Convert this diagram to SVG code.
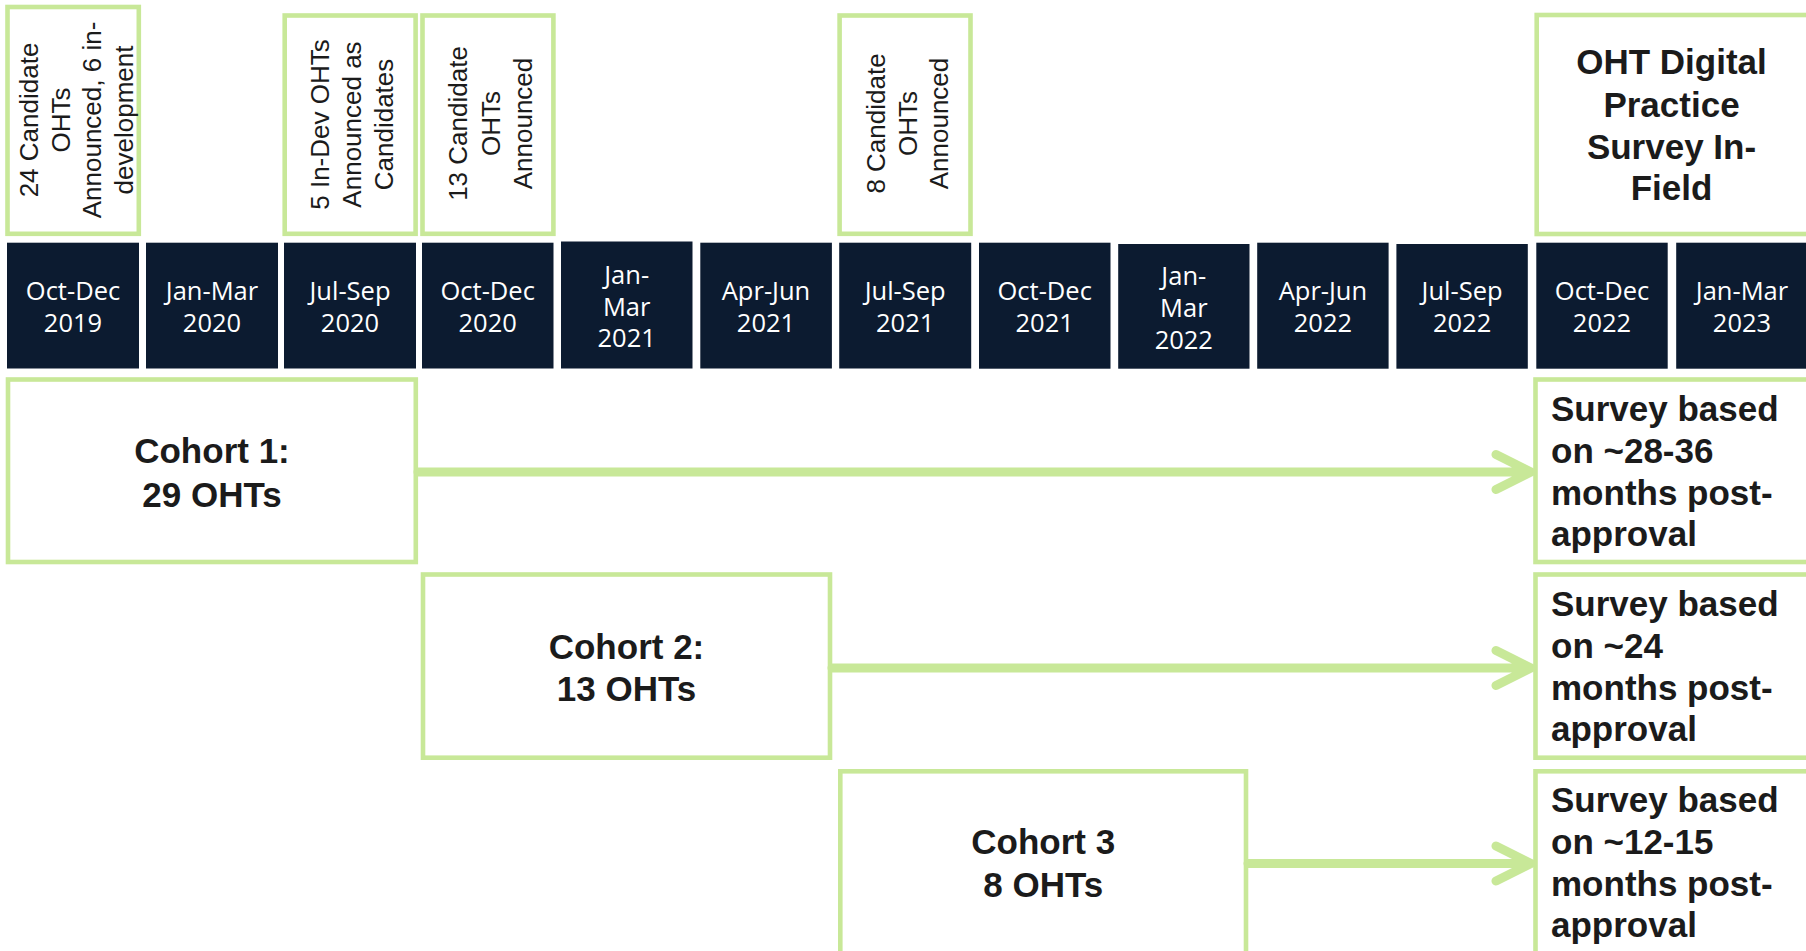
<svg xmlns="http://www.w3.org/2000/svg" width="1806" height="951" viewBox="0 0 1806 951">
<style>
.gbox{fill:#ffffff;stroke:#c8e898;stroke-width:4.6}
.qbox{fill:#0c1b30}
.qt{font-family:"Open Sans","Noto Sans",sans-serif;font-size:25.5px;fill:#ffffff;text-anchor:middle}
.rt{font-family:"Liberation Sans",Arial,sans-serif;font-size:26px;fill:#1b1b1b;text-anchor:middle}
.bt{font-family:"Liberation Sans",Arial,sans-serif;font-size:35px;font-weight:bold;fill:#1b1b1b}
.mid{text-anchor:middle}
.conn{fill:none;stroke:#c8e898;stroke-width:9;stroke-linecap:round;stroke-linejoin:round}
</style>
<rect width="1806" height="951" fill="#ffffff"/>

<g id="ann1">
<rect class="gbox" x="7.5" y="7" width="131.3" height="226.8"/>
<text class="rt" transform="translate(38,120) rotate(-90)"><tspan x="0" y="0">24 Candidate</tspan><tspan x="0" dy="31.5">OHTs</tspan><tspan x="0" dy="31.5">Announced, 6 in-</tspan><tspan x="0" dy="31.5">development</tspan></text>
</g>
<g id="ann2">
<rect class="gbox" x="284.7" y="15.5" width="130.9" height="218.3"/>
<text class="rt" transform="translate(329,124.5) rotate(-90)"><tspan x="0" y="0">5 In-Dev OHTs</tspan><tspan x="0" dy="32">Announced as</tspan><tspan x="0" dy="32">Candidates</tspan></text>
</g>
<g id="ann3">
<rect class="gbox" x="422.5" y="15.5" width="130.9" height="218.3"/>
<text class="rt" transform="translate(467,123.5) rotate(-90)"><tspan x="0" y="0">13 Candidate</tspan><tspan x="0" dy="32.5">OHTs</tspan><tspan x="0" dy="32.5">Announced</tspan></text>
</g>
<g id="ann4">
<rect class="gbox" x="839.6" y="15.5" width="130.9" height="218.3"/>
<text class="rt" transform="translate(885,123.5) rotate(-90)"><tspan x="0" y="0">8 Candidate</tspan><tspan x="0" dy="31.5">OHTs</tspan><tspan x="0" dy="31.5">Announced</tspan></text>
</g>
<g id="ann5">
<rect class="gbox" x="1536.7" y="15" width="280" height="219"/>
<text class="bt mid"><tspan x="1671.5" y="74">OHT Digital</tspan><tspan x="1671.5" y="117">Practice</tspan><tspan x="1671.5" y="159">Survey In-</tspan><tspan x="1671.5" y="200">Field</tspan></text>
</g>

<g id="q1"><rect class="qbox" x="7" y="242.7" width="132" height="125.8"/><text class="qt"><tspan x="73" y="300">Oct-Dec</tspan><tspan x="73" y="332">2019</tspan></text></g>
<g id="q2"><rect class="qbox" x="146" y="242.7" width="132" height="125.8"/><text class="qt"><tspan x="212" y="300">Jan-Mar</tspan><tspan x="212" y="332">2020</tspan></text></g>
<g id="q3"><rect class="qbox" x="284" y="242.7" width="132" height="125.8"/><text class="qt"><tspan x="350" y="300">Jul-Sep</tspan><tspan x="350" y="332">2020</tspan></text></g>
<g id="q4"><rect class="qbox" x="422" y="242.7" width="131.5" height="125.8"/><text class="qt"><tspan x="487.7" y="300">Oct-Dec</tspan><tspan x="487.7" y="332">2020</tspan></text></g>
<g id="q5"><rect class="qbox" x="561" y="241.5" width="131.5" height="127"/><text class="qt"><tspan x="626.7" y="283.5">Jan-</tspan><tspan x="626.7" y="315.5">Mar</tspan><tspan x="626.7" y="347">2021</tspan></text></g>
<g id="q6"><rect class="qbox" x="700.3" y="242.7" width="131.6" height="125.8"/><text class="qt"><tspan x="766" y="300">Apr-Jun</tspan><tspan x="766" y="332">2021</tspan></text></g>
<g id="q7"><rect class="qbox" x="839.2" y="242.7" width="132" height="125.8"/><text class="qt"><tspan x="905.2" y="300">Jul-Sep</tspan><tspan x="905.2" y="332">2021</tspan></text></g>
<g id="q8"><rect class="qbox" x="979" y="242.7" width="131.5" height="126"/><text class="qt"><tspan x="1044.7" y="300">Oct-Dec</tspan><tspan x="1044.7" y="332">2021</tspan></text></g>
<g id="q9"><rect class="qbox" x="1118.2" y="244" width="131.3" height="124.7"/><text class="qt"><tspan x="1183.8" y="285">Jan-</tspan><tspan x="1183.8" y="317">Mar</tspan><tspan x="1183.8" y="348.5">2022</tspan></text></g>
<g id="q10"><rect class="qbox" x="1257.2" y="242.7" width="131.4" height="126"/><text class="qt"><tspan x="1322.9" y="300">Apr-Jun</tspan><tspan x="1322.9" y="332">2022</tspan></text></g>
<g id="q11"><rect class="qbox" x="1396.4" y="244" width="131.4" height="124.7"/><text class="qt"><tspan x="1462.1" y="300">Jul-Sep</tspan><tspan x="1462.1" y="332">2022</tspan></text></g>
<g id="q12"><rect class="qbox" x="1536.3" y="242.7" width="131.4" height="126"/><text class="qt"><tspan x="1602" y="300">Oct-Dec</tspan><tspan x="1602" y="332">2022</tspan></text></g>
<g id="q13"><rect class="qbox" x="1676.2" y="242.7" width="131.8" height="126"/><text class="qt"><tspan x="1742" y="300">Jan-Mar</tspan><tspan x="1742" y="332">2023</tspan></text></g>

<g id="cohort1">
<rect class="gbox" x="8" y="379.5" width="407.8" height="182.5"/>
<text class="bt mid"><tspan x="212" y="463">Cohort 1:</tspan><tspan x="212" y="507">29 OHTs</tspan></text>
</g>
<g id="cohort2">
<rect class="gbox" x="423" y="574.5" width="407" height="183.2"/>
<text class="bt mid"><tspan x="626.5" y="659">Cohort 2:</tspan><tspan x="626.5" y="701">13 OHTs</tspan></text>
</g>
<g id="cohort3">
<rect class="gbox" x="840.3" y="771.3" width="405.7" height="200"/>
<text class="bt mid"><tspan x="1043.2" y="854">Cohort 3</tspan><tspan x="1043.2" y="897">8 OHTs</tspan></text>
</g>

<g id="survey1">
<rect class="gbox" x="1535.5" y="379.5" width="280" height="182.5"/>
<text class="bt"><tspan x="1551" y="421">Survey based</tspan><tspan x="1551" y="463">on ~28-36</tspan><tspan x="1551" y="505">months post-</tspan><tspan x="1551" y="546">approval</tspan></text>
</g>
<g id="survey2">
<rect class="gbox" x="1535.5" y="574.5" width="280" height="183.2"/>
<text class="bt"><tspan x="1551" y="616">Survey based</tspan><tspan x="1551" y="658">on ~24</tspan><tspan x="1551" y="700">months post-</tspan><tspan x="1551" y="741">approval</tspan></text>
</g>
<g id="survey3">
<rect class="gbox" x="1535.5" y="771.3" width="280" height="200"/>
<text class="bt"><tspan x="1551" y="812">Survey based</tspan><tspan x="1551" y="854">on ~12-15</tspan><tspan x="1551" y="896">months post-</tspan><tspan x="1551" y="937">approval</tspan></text>
</g>

<g id="connectors">
<path class="conn" d="M418,472 H1531 M1496,454.5 L1531,472 L1496,489.5"/>
<path class="conn" d="M832,668 H1531 M1496,650.5 L1531,668 L1496,685.5"/>
<path class="conn" d="M1248,863.5 H1531 M1496,846 L1531,863.5 L1496,881"/>
</g>
</svg>
